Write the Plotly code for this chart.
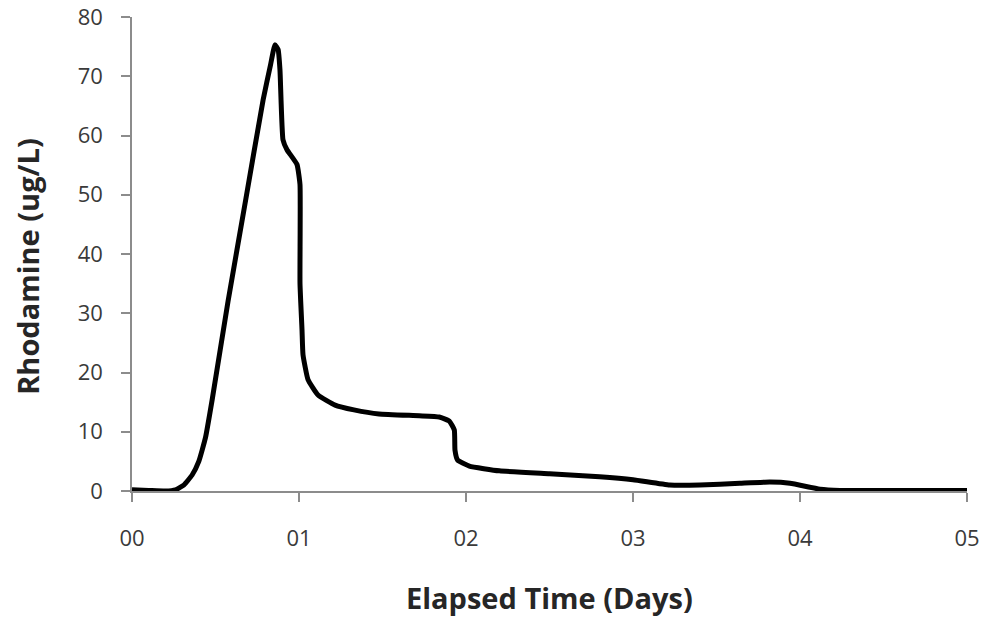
import plotly.graph_objects as go

days = [0.00, 0.10, 0.20, 0.26, 0.31, 0.36, 0.40, 0.44, 0.48, 0.575, 0.68, 0.785, 0.83, 0.856,
        0.875, 0.886, 0.904, 0.928, 0.988, 1.006, 1.006, 1.018, 1.024, 1.054, 1.114, 1.216, 1.329,
        1.479, 1.72, 1.84, 1.90, 1.93, 1.934, 1.95, 2.02, 2.20, 2.50, 2.80, 3.00, 3.22, 3.40,
        3.64, 3.82, 3.94, 4.12, 4.24, 4.6, 5.0]
rhodamine = [0.2, 0.1, 0.0, 0.2, 1.0, 2.7, 5.0, 9.0, 15.4, 32, 49, 66, 72, 75.3,
             74.5, 71.1, 59.3, 57.6, 55.1, 51.7, 35, 27.2, 23, 18.8, 16.2, 14.5, 13.7,
             13.0, 12.7, 12.5, 11.8, 10.3, 6.9, 5.2, 4.2, 3.4, 2.9, 2.4, 1.9, 1.0, 1.0,
             1.3, 1.5, 1.3, 0.3, 0.1, 0.1, 0.1]

x_tickvals = [0, 1, 2, 3, 4, 5]
x_ticktext = ["00", "01", "02", "03", "04", "05"]
y_tickvals = [0, 10, 20, 30, 40, 50, 60, 70, 80]
x_title = "Elapsed Time (Days)"
y_title = "Rhodamine (ug/L)"

fig = go.Figure()
fig.add_trace(go.Scatter(x=days, y=rhodamine, mode="lines",
                         line=dict(color="black", width=5, shape="spline", smoothing=0.4),
                         showlegend=False))

tick_font = "'Open Sans', Lato, sans-serif"
title_font = "'Open Sans', Lato, sans-serif"
axis_common = dict(showgrid=False, zeroline=False, showline=True, linecolor="#8c8c8c", linewidth=1.5,
                   ticks="outside", ticklen=9, tickcolor="#8c8c8c", tickwidth=1.5,
                   tickfont=dict(size=22, color="#3a3a3a", family=tick_font), automargin=False)
fig.update_layout(
    width=983, height=619,
    margin=dict(l=132, r=16, t=17, b=128),
    paper_bgcolor="white", plot_bgcolor="white",
    font=dict(family=tick_font, size=22, color="#3a3a3a"),
    xaxis=dict(range=[0, 5], tickvals=x_tickvals, ticktext=x_ticktext, ticklabelstandoff=18, **axis_common),
    yaxis=dict(range=[0, 80], tickvals=y_tickvals, ticklabelstandoff=14, **axis_common),
    annotations=[
        dict(text="<b>" + x_title + "</b>", xref="paper", yref="paper", x=0.5, y=-0.224,
             xanchor="center", yanchor="middle", showarrow=False,
             font=dict(size=29, color="#262626", family=title_font)),
        dict(text="<b>" + y_title + "</b>", xref="paper", yref="paper", x=-0.1246, y=0.475,
             xanchor="center", yanchor="middle", showarrow=False, textangle=-90,
             font=dict(size=29, color="#262626", family=title_font)),
    ],
)

fig.write_html("out.html")
